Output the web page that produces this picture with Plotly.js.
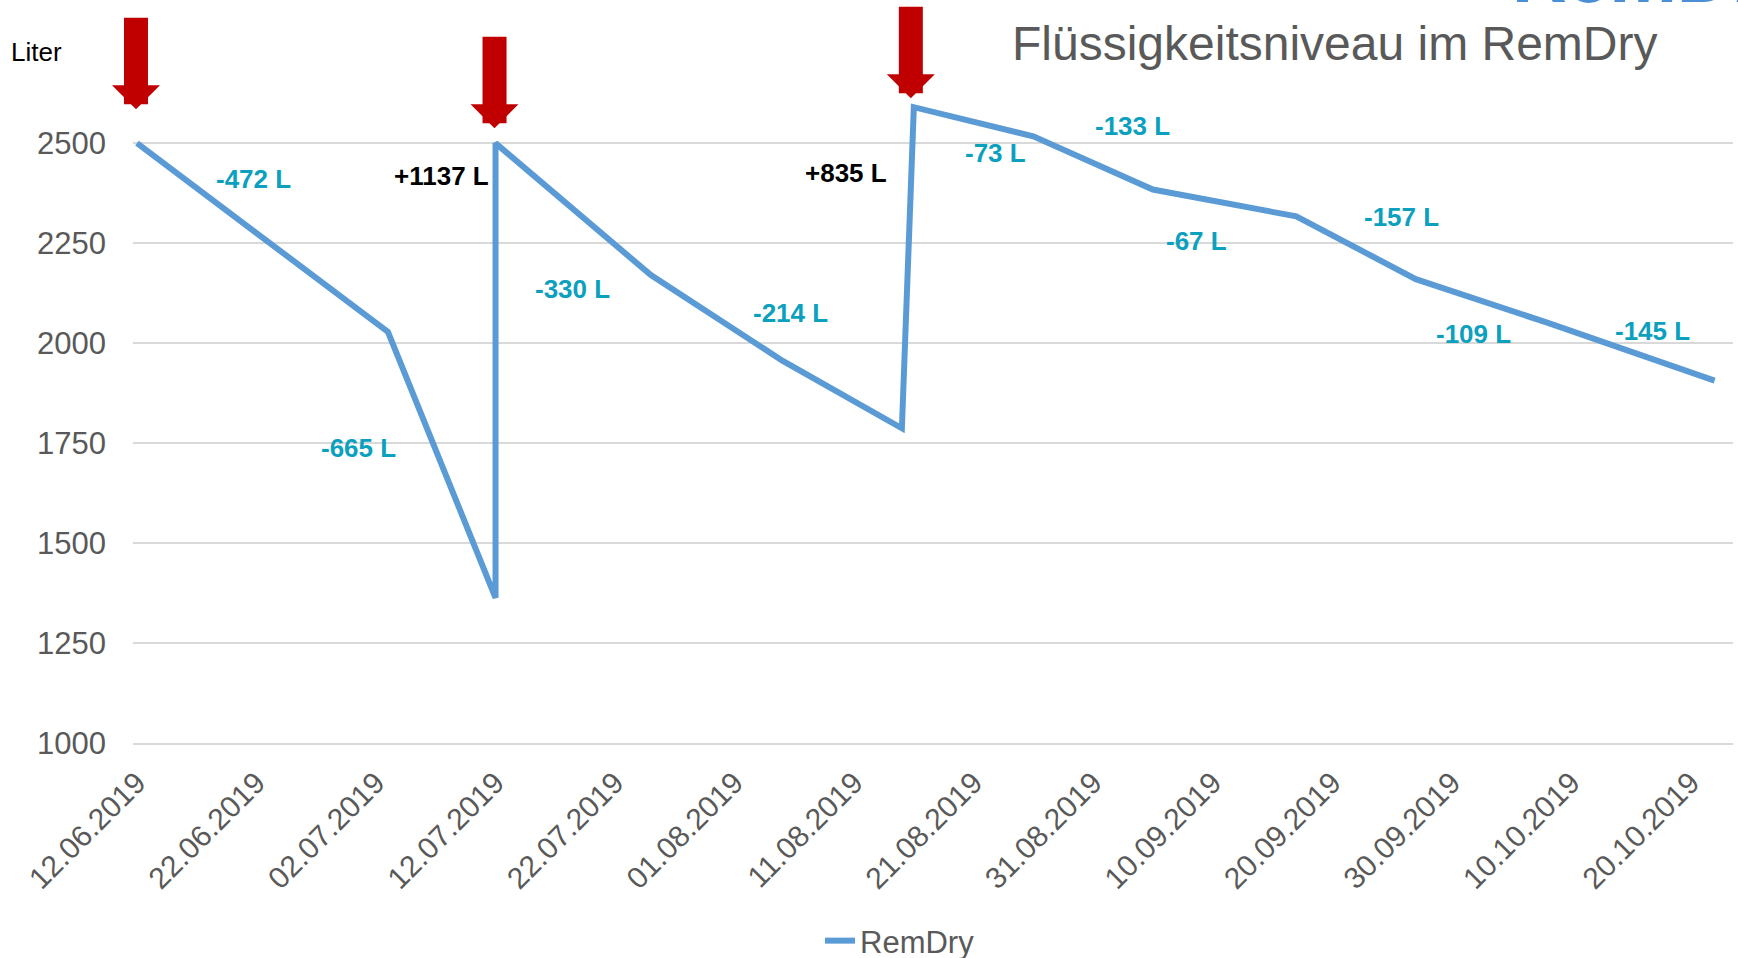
<!DOCTYPE html>
<html>
<head>
<meta charset="utf-8">
<script src="https://cdn.plot.ly/plotly-3.0.1.min.js"></script>
<style>
  html, body { margin: 0; padding: 0; background: #ffffff; }
  #chart { width: 1738px; height: 958px; }
</style>
</head>
<body>
<div id="chart"></div>
<script>
// ---- data ----
const dates  = ['2019-06-12','2019-07-03','2019-07-12','2019-07-12','2019-07-25','2019-08-05',
                '2019-08-15','2019-08-16','2019-08-26','2019-09-05','2019-09-17','2019-09-27',
                '2019-10-08','2019-10-22'];
const levels = [2500, 2028, 1363, 2500, 2170, 1956, 1787, 2590, 2517, 2384, 2317, 2160, 2051, 1906];
// label for each segment (from point i to point i+1); '' = no label
const changeLabels = ['-472 L','-665 L','+1137 L','-330 L','-214 L','','+835 L',
                      '-73 L','-133 L','-67 L','-157 L','-109 L','-145 L'];
const markedPoints = [0, 3, 7];   // points with the red refill arrows
const yTicks = [1000, 1250, 1500, 1750, 2000, 2250, 2500];
const xTickDates  = ['2019-06-12','2019-06-22','2019-07-02','2019-07-12','2019-07-22','2019-08-01',
                     '2019-08-11','2019-08-21','2019-08-31','2019-09-10','2019-09-20','2019-09-30',
                     '2019-10-10','2019-10-20'];
const xTickLabels = ['12.06.2019','22.06.2019','02.07.2019','12.07.2019','22.07.2019','01.08.2019',
                     '11.08.2019','21.08.2019','31.08.2019','10.09.2019','20.09.2019','30.09.2019',
                     '10.10.2019','20.10.2019'];
const seriesName = 'RemDry';
const chartTitle = 'Flüssigkeitsniveau im RemDry';
const unitLabel  = 'Liter';
const logoText   = 'RemDry';

// ---- placement / style (kept apart from data) ----
const FONT = 'Arial, "Liberation Sans", sans-serif';
const GREY = '#595959';
const TEAL = '#0CA0BF';
// pixel offsets of each segment label from the segment midpoint [dx, dy(down)]
const labelOffsets = [[-9,-59],[-83,-17],[-54,-195],[-1,80],[74,-5],null,[-62,-95],
                      [22,31],[39,-37],[-28,38],[45,-31],[-8,33],[22,-21]];
// gap (px) between arrow tip and marked point, and horizontal nudge
const arrowGaps = [34, 15, 9];
const arrowNudge = [-1, -1, -3];

function midDate(a, b) {
  const ms = (Date.parse(a) + Date.parse(b)) / 2;
  return new Date(ms).toISOString().slice(0, 19).replace('T', ' ');
}

const annotations = [];

changeLabels.forEach((txt, i) => {
  if (!txt) return;
  const off = labelOffsets[i];
  annotations.push({
    x: midDate(dates[i], dates[i + 1]),
    y: (levels[i] + levels[i + 1]) / 2,
    xref: 'x', yref: 'y',
    text: txt,
    showarrow: false,
    xshift: off[0], yshift: -off[1],
    font: { family: FONT, size: 26, weight: 'bold', color: txt.startsWith('+') ? '#000000' : TEAL }
  });
});

markedPoints.forEach((idx, k) => {
  annotations.push({
    x: dates[idx], y: levels[idx], xref: 'x', yref: 'y',
    text: '', showarrow: true,
    ax: 0, ay: -(arrowGaps[k] + 93),
    standoff: arrowGaps[k],
    arrowhead: 1, arrowsize: 1 / 3, arrowwidth: 24, arrowcolor: '#C00000',
    xshift: arrowNudge[k]
  });
});

// plot area: x 133..1733 px, y 0..743 px  -> paper coordinates
annotations.push({
  xref: 'paper', yref: 'paper', x: (9 - 133) / 1600, y: (743 - 52) / 743,
  xanchor: 'left', yanchor: 'middle',
  text: unitLabel, showarrow: false,
  font: { family: FONT, size: 26, color: '#000000' }
});

annotations.push({
  xref: 'paper', yref: 'paper', x: (1510 - 133) / 1600, y: (743 + 25) / 743,
  xanchor: 'left', yanchor: 'middle',
  text: logoText, showarrow: false,
  font: { family: FONT, size: 76, weight: 'bold', color: '#4A8FD6' }
});

const trace = {
  type: 'scatter', mode: 'lines',
  x: dates, y: levels, name: seriesName,
  line: { color: '#5B9BD5', width: 6, shape: 'linear' },
  cliponaxis: false
};

const layout = {
  width: 1738, height: 958,
  paper_bgcolor: '#ffffff', plot_bgcolor: '#ffffff',
  margin: { l: 133, r: 5, t: 0, b: 215, pad: 0 },
  font: { family: FONT, color: GREY },
  title: {
    text: chartTitle,
    font: { family: FONT, size: 48, color: GREY },
    xref: 'container', yref: 'container',
    x: 1012 / 1738, xanchor: 'left',
    y: 1 - 43 / 958, yanchor: 'middle'
  },
  xaxis: {
    type: 'date',
    range: ['2019-06-11 16:00', '2019-10-23 13:00'],
    tickvals: xTickDates, ticktext: xTickLabels,
    tickangle: -45,
    tickfont: { family: FONT, size: 30, color: GREY },
    showgrid: false, zeroline: false,
    showline: true, linecolor: '#D9D9D9', linewidth: 2,
    ticks: '', ticklabelstandoff: 8, automargin: false
  },
  yaxis: {
    range: [1000, 2858],
    tickvals: yTicks, ticktext: yTicks.map(String),
    tickfont: { family: FONT, size: 31, color: GREY },
    showgrid: true, gridcolor: '#D9D9D9', gridwidth: 2,
    zeroline: false, showline: false,
    ticks: '', ticklabelstandoff: 26, automargin: false
  },
  showlegend: true,
  legend: {
    orientation: 'h',
    xref: 'container', yref: 'container',
    x: 820 / 1738, xanchor: 'left',
    y: 17 / 958, yanchor: 'middle',
    font: { family: FONT, size: 31, color: GREY },
    bgcolor: 'rgba(0,0,0,0)'
  },
  annotations: annotations
};

Plotly.newPlot('chart', [trace], layout, { displayModeBar: false, staticPlot: true });
</script>
</body>
</html>
